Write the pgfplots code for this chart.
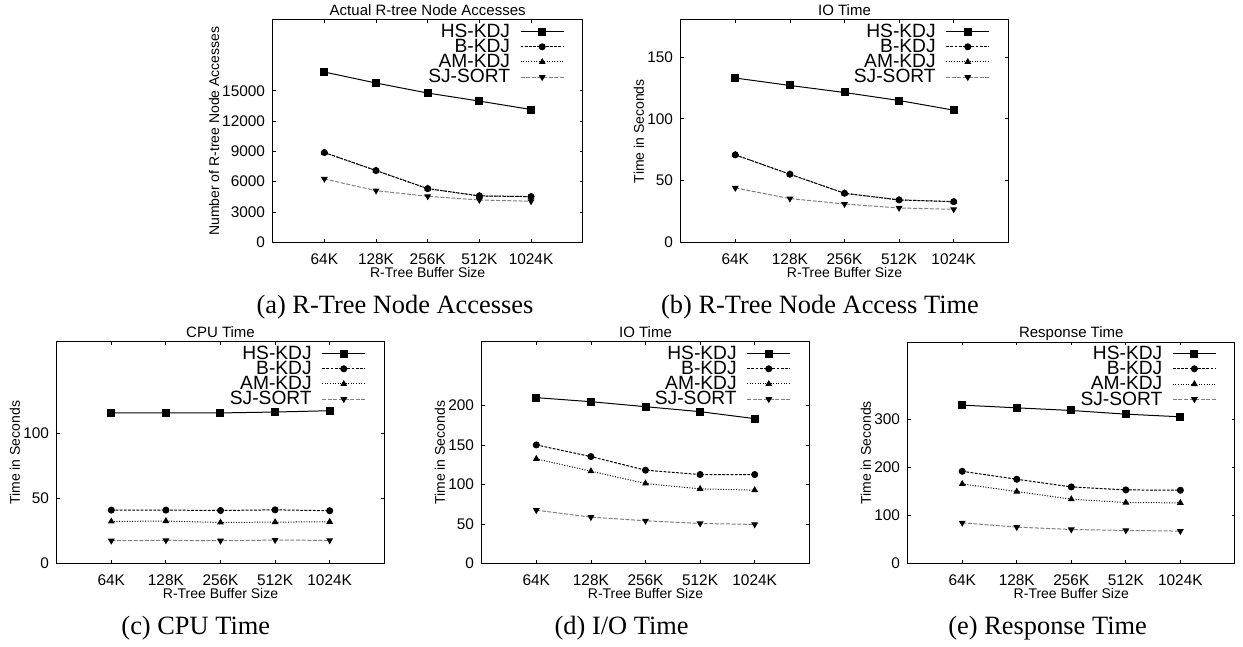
\documentclass[border=0pt]{standalone}
\usepackage{fontspec}
\setmainfont{Liberation Sans}
\newfontfamily\capfont{Liberation Serif}
\usepackage{pgfplots}
\pgfplotsset{compat=1.18}
\pgfplotsset{
  kdj/.style={
    scale only axis,
    anchor=south west,
    xmin=-1, xmax=5, ymin=0,
    xtick={0,1,2,3,4},
    xticklabels={64K,128K,256K,512K,1024K},
    tick align=inside,
    major tick length=1.6pt,
    tick style={black, line width=0.4pt},
    axis line style={line width=0.5pt},
    scaled y ticks=false,
    /pgf/number format/assume math mode=true,
    /pgf/number format/1000 sep={},
    ticklabel style={font=\fontsize{7.7}{8}\selectfont},
    xticklabel style={yshift=-2.0pt},
    yticklabel style={xshift=-0.3pt},
    every axis title/.style={font=\fontsize{7.5}{7.5}\selectfont, at={(0.5,1)}, anchor=base, yshift=2.2pt},
    every axis x label/.style={font=\fontsize{7}{7}\selectfont, at={(0.5,-0.134)}, anchor=center},
    every axis y label/.style={font=\fontsize{7}{7}\selectfont, anchor=center, rotate=90},
    xlabel={R-Tree Buffer Size},
    legend plot pos=right,
    legend cell align=right,
    legend image code/.code={\draw[mark repeat=2,mark phase=2,#1] plot coordinates {(0pt,0pt) (10.8pt,0pt) (21.6pt,0pt)};},
    legend style={draw=none, fill=none, at={(1,1)}, anchor=north east, xshift=-9pt, yshift=-1.8pt,
      inner sep=0pt, column sep=5pt, row sep=0pt,
      font=\fontsize{9.6}{9.6}\selectfont,
      nodes={inner sep=0pt, text height=6.7pt, text depth=0.9pt}},
  },
  hs/.style={black, line width=0.5pt, mark=square*, mark size=1.75pt, mark options={solid, fill=black}},
  bk/.style={black, line width=0.5pt, dash pattern=on 1.4pt off 0.7pt, mark=*, mark size=1.5pt, mark options={solid, fill=black}},
  am/.style={black, line width=0.5pt, dash pattern=on 0.5pt off 0.8pt, mark=triangle*, mark size=1.5pt, mark options={solid, fill=black}},
  sj/.style={gray, line width=0.5pt, dash pattern=on 2pt off 0.8pt, mark=triangle*, mark size=1.5pt, mark options={solid, black, fill=black, rotate=180}},
}
\begin{document}
\begin{tikzpicture}
\useasboundingbox (0,0) rectangle (621.5pt,323.5pt);

% (a)
\begin{axis}[kdj, at={(136.35pt,202.35pt)}, width=155pt, height=111.15pt,
  ymax=22000, ytick={0,3000,6000,9000,12000,15000},
  title={Actual R-tree Node Accesses},
  ylabel={Number of R-tree Node Accesses},
  ylabel style={at={(axis description cs:-0.189,0.5)}}]
\addplot[hs] coordinates {(0,16850) (1,15760) (2,14770) (3,13975) (4,13140)};
\addplot[bk] coordinates {(0,8880) (1,7100) (2,5310) (3,4590) (4,4520)};
\addplot[am] coordinates {(0,8880) (1,7100) (2,5310) (3,4590) (4,4520)};
\addplot[sj] coordinates {(0,6270) (1,5110) (2,4550) (3,4190) (4,4060)};
\legend{HS-KDJ,B-KDJ,AM-KDJ,SJ-SORT}
\end{axis}

% (b)
\begin{axis}[kdj, at={(340.35pt,202.35pt)}, width=163.8pt, height=111.15pt,
  ymax=180, ytick={0,50,100,150},
  title={IO Time},
  ylabel={Time in Seconds},
  ylabel style={at={(axis description cs:-0.128,0.5)}}]
\addplot[hs] coordinates {(0,133) (1,127) (2,121.3) (3,114.8) (4,107)};
\addplot[bk] coordinates {(0,70.8) (1,55.1) (2,39.7) (3,34.3) (4,32.9)};
\addplot[am] coordinates {(0,70.8) (1,55.1) (2,39.7) (3,34.3) (4,32.9)};
\addplot[sj] coordinates {(0,44) (1,35.4) (2,31) (3,27.8) (4,26.7)};
\legend{HS-KDJ,B-KDJ,AM-KDJ,SJ-SORT}
\end{axis}

% (c)
\begin{axis}[kdj, at={(28.35pt,41.65pt)}, width=163.8pt, height=110.85pt,
  ymax=170, ytick={0,50,100},
  title={CPU Time},
  ylabel={Time in Seconds},
  ylabel style={at={(axis description cs:-0.128,0.5)}}]
\addplot[hs] coordinates {(0,115.6) (1,115.6) (2,115.6) (3,116.3) (4,117.3)};
\addplot[bk] coordinates {(0,41.1) (1,41.1) (2,40.8) (3,41.3) (4,40.6)};
\addplot[am] coordinates {(0,32.4) (1,32.7) (2,31.6) (3,31.9) (4,32.1)};
\addplot[sj] coordinates {(0,17.6) (1,17.9) (2,17.6) (3,18.1) (4,17.9)};
\legend{HS-KDJ,B-KDJ,AM-KDJ,SJ-SORT}
\end{axis}

% (d)
\begin{axis}[kdj, at={(240.85pt,41.65pt)}, width=163.8pt, height=110.85pt,
  ymax=280, ytick={0,50,100,150,200},
  title={IO Time},
  ylabel={Time in Seconds},
  ylabel style={at={(axis description cs:-0.128,0.5)}}]
\addplot[hs] coordinates {(0,209.7) (1,204.6) (2,198.3) (3,192) (4,183.2)};
\addplot[bk] coordinates {(0,150) (1,135.3) (2,118.1) (3,112.6) (4,112.6)};
\addplot[am] coordinates {(0,132.4) (1,116.8) (2,101.3) (3,94.5) (4,92.9)};
\addplot[sj] coordinates {(0,67.6) (1,58.8) (2,54.2) (3,50.8) (4,49.6)};
\legend{HS-KDJ,B-KDJ,AM-KDJ,SJ-SORT}
\end{axis}

% (e)
\begin{axis}[kdj, at={(453.85pt,41.65pt)}, width=163.6pt, height=110.85pt,
  ymax=460, ytick={0,100,200,300},
  title={Response Time},
  ylabel={Time in Seconds},
  ylabel style={at={(axis description cs:-0.128,0.5)}}]
\addplot[hs] coordinates {(0,329) (1,323.4) (2,317.9) (3,310.3) (4,304.8)};
\addplot[bk] coordinates {(0,191.7) (1,175.2) (2,159.3) (3,153.1) (4,152.4)};
\addplot[am] coordinates {(0,165.5) (1,149.7) (2,133.8) (3,126.9) (4,126.2)};
\addplot[sj] coordinates {(0,84.8) (1,75.9) (2,71) (3,69) (4,67.6)};
\legend{HS-KDJ,B-KDJ,AM-KDJ,SJ-SORT}
\end{axis}

% captions
\node[font=\capfont\fontsize{13.2}{13.2}\selectfont, anchor=base] at (197.5pt,166.5pt) {(a) R-Tree Node Accesses};
\node[font=\capfont\fontsize{13.2}{13.2}\selectfont, anchor=base] at (410pt,166.5pt) {(b) R-Tree Node Access Time};
\node[font=\capfont\fontsize{13.2}{13.2}\selectfont, anchor=base] at (97.9pt,6pt) {(c) CPU Time};
\node[font=\capfont\fontsize{13.2}{13.2}\selectfont, anchor=base] at (310.8pt,6pt) {(d) I/O Time};
\node[font=\capfont\fontsize{13.2}{13.2}\selectfont, anchor=base] at (523.8pt,6pt) {(e) Response Time};
\end{tikzpicture}
\end{document}
